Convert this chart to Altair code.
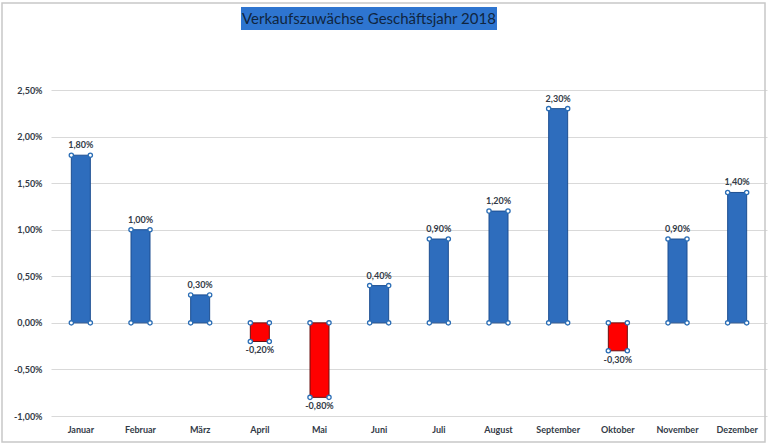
import altair as alt
import pandas as pd

months = ["Januar", "Februar", "März", "April", "Mai", "Juni", "Juli",
          "August", "September", "Oktober", "November", "Dezember"]
values = [1.8, 1.0, 0.3, -0.2, -0.8, 0.4, 0.9, 1.2, 2.3, -0.3, 0.9, 1.4]
y_ticks = [-1.0, -0.5, 0.0, 0.5, 1.0, 1.5, 2.0, 2.5]
title_text = "Verkaufszuwächse Geschäftsjahr 2018"

df = pd.DataFrame({"Monat": months, "Wert": values})
df["Label"] = [f"{v:.2f}".replace(".", ",") + "%" for v in values]
df["Null"] = 0.0
df["Vorzeichen"] = ["pos" if v >= 0 else "neg" for v in values]

W, H = 716, 326
FONT = "Lato"
TXT = "#333b47"

x = alt.X("Monat:N", sort=months,
          scale=alt.Scale(paddingInner=0, paddingOuter=0),
          axis=alt.Axis(title=None, labelAngle=0, domain=False, ticks=False,
                        labelPadding=9, labelFont=FONT, labelFontSize=9,
                        labelFontWeight="bold", labelColor=TXT, grid=False))
y = alt.Y("Wert:Q",
          scale=alt.Scale(domain=[-1, 2.5], nice=False, zero=False),
          axis=alt.Axis(title=None, values=y_ticks, domain=False, ticks=False,
                        labelPadding=9, labelFont=FONT, labelFontSize=9,
                        labelFontWeight="bold", labelColor=TXT,
                        gridColor="#d9d9d9", gridWidth=1,
                        labelExpr="replace(replace(format(datum.value, '.2f'), '.', ','), '\u2212', '-') + '%'"))

base = alt.Chart(df).encode(x=x)

bars = base.mark_bar(size=19, strokeWidth=1).encode(
    y=y, y2=alt.Y2("Null:Q"),
    color=alt.Color("Vorzeichen:N", scale=alt.Scale(domain=["pos", "neg"], range=["#2e6dbd", "#ff0000"]), legend=None),
    stroke=alt.Stroke("Vorzeichen:N", scale=alt.Scale(domain=["pos", "neg"], range=["#1d4f91", "#6a1010"]), legend=None),
)

handles = []
for field in ["Wert:Q", "Null:Q"]:
    for off in [-9.5, 9.5]:
        handles.append(base.mark_point(shape="circle", fill="white", filled=False,
                                       stroke="#2a6db5", strokeWidth=1.3, size=18,
                                       opacity=1, xOffset=off).encode(y=alt.Y(field)))

lab_pos = base.transform_filter("datum.Wert >= 0").mark_text(
    baseline="bottom", dy=-5, font=FONT, fontSize=9, fontWeight="bold", color=TXT
).encode(y=alt.Y("Wert:Q"), text="Label:N")
lab_neg = base.transform_filter("datum.Wert < 0").mark_text(
    baseline="top", dy=5, font=FONT, fontSize=9, fontWeight="bold", color=TXT
).encode(y=alt.Y("Wert:Q"), text="Label:N")

tdf = pd.DataFrame({"t": [title_text]})
title_bg = alt.Chart(tdf).mark_rect(color="#2e75d0").encode(
    x=alt.value(190), x2=alt.value(446), y=alt.value(-83), y2=alt.value(-60))
title = alt.Chart(tdf).mark_text(font=FONT, fontSize=15, color="#10253f",
                                 align="center", baseline="middle").encode(
    x=alt.value(318), y=alt.value(-71.5), text="t:N")
frame = alt.Chart(tdf).mark_rect(fillOpacity=0, stroke="#c8c8c8", strokeWidth=1.5).encode(
    x=alt.value(-49), x2=alt.value(714), y=alt.value(-87), y2=alt.value(352))

chart = alt.layer(frame, bars, *handles, lab_pos, lab_neg, title_bg, title).properties(
    width=W, height=H, autosize="none",
    padding={"left": 51, "top": 90, "right": 1, "bottom": 28},
    background="white",
).configure_view(stroke=None)

chart.save("out.html", embed_options={"renderer": "svg", "actions": False})
